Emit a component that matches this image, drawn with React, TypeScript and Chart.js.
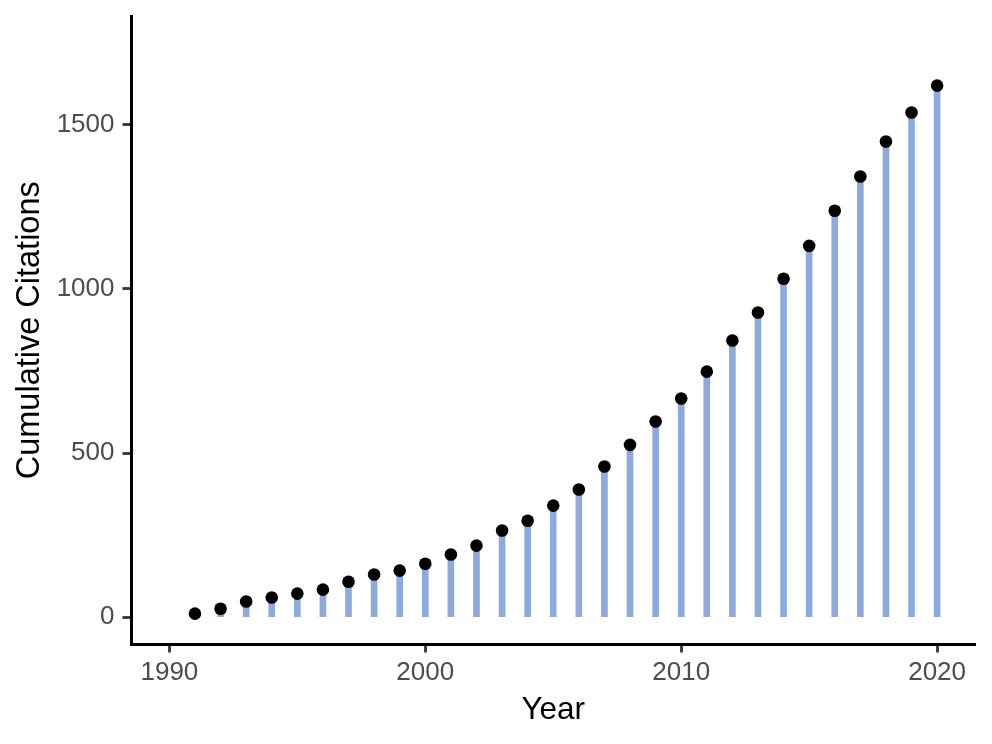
import { Chart, registerables } from 'chart.js';
import { useEffect, useRef } from 'react';

Chart.register(...registerables);

const years = [
  1991, 1992, 1993, 1994, 1995, 1996, 1997, 1998, 1999, 2000,
  2001, 2002, 2003, 2004, 2005, 2006, 2007, 2008, 2009, 2010,
  2011, 2012, 2013, 2014, 2015, 2016, 2017, 2018, 2019, 2020,
];
const citations = [
  11, 26, 48, 60, 72, 84, 108, 130, 142, 163,
  191, 218, 264, 294, 340, 389, 459, 525, 596, 666,
  748, 843, 928, 1031, 1131, 1238, 1342, 1449, 1537, 1619,
];
const xTicks = [1990, 2000, 2010, 2020];
const yTicks = [0, 500, 1000, 1500];

const FONT = "'Liberation Sans', Arial, sans-serif";

const App: React.FC = () => {
  const ref = useRef<HTMLCanvasElement>(null);
  const chartInstance = useRef<Chart | null>(null);

  useEffect(() => {
    if (!ref.current) return;
    const ctx = ref.current.getContext('2d');
    if (!ctx) return;
    if (chartInstance.current) chartInstance.current.destroy();

    const points = years.map((y, i) => ({ x: y, y: citations[i] }));

    chartInstance.current = new Chart(ctx, {
      type: 'bar',
      data: {
        datasets: [
          {
            type: 'scatter',
            data: points,
            backgroundColor: '#000000',
            borderWidth: 0,
            pointRadius: 6.3,
            order: 0,
          } as any,
          {
            type: 'bar',
            data: points,
            backgroundColor: '#8EAADC',
            barThickness: 6,
            order: 1,
          },
        ],
      },
      options: {
        animation: false,
        responsive: false,
        layout: { padding: { top: 16, right: 17, left: 0, bottom: 0 } },
        plugins: { legend: { display: false }, tooltip: { enabled: false } },
        scales: {
          x: {
            type: 'linear',
            min: 1988.52,
            max: 2021.48,
            offset: false,
            afterBuildTicks: (scale: any) => {
              scale.ticks = xTicks.map((v) => ({ value: v }));
            },
            afterFit: (scale: any) => {
              scale.height = 99.5;
              scale.paddingLeft = 0;
              scale.paddingRight = 0;
            },
            grid: {
              offset: false,
              drawOnChartArea: false,
              drawTicks: true,
              tickLength: 8,
              tickColor: '#333333',
              tickWidth: 2.8,
            },
            border: { display: true, color: '#000000', width: 3 },
            ticks: {
              color: '#4D4D4D',
              font: { family: FONT, size: 26 },
              padding: 5,
              maxRotation: 0,
              callback: (v: any) => String(v),
            },
            title: {
              display: true,
              text: 'Year',
              color: '#000000',
              font: { family: FONT, size: 31.5 },
              padding: { top: 0, bottom: 15 },
            },
          },
          y: {
            type: 'linear',
            min: -83,
            max: 1831,
            afterBuildTicks: (scale: any) => {
              scale.ticks = yTicks.map((v) => ({ value: v }));
            },
            afterFit: (scale: any) => {
              scale.width = 131.5;
              scale.paddingTop = 0;
              scale.paddingBottom = 0;
            },
            grid: {
              drawOnChartArea: false,
              drawTicks: true,
              tickLength: 9,
              tickColor: '#333333',
              tickWidth: 2.8,
            },
            border: { display: true, color: '#000000', width: 3 },
            ticks: {
              color: '#4D4D4D',
              font: { family: FONT, size: 26 },
              padding: 8,
              callback: (v: any) => String(v),
            },
            title: {
              display: true,
              text: 'Cumulative Citations',
              color: '#000000',
              font: { family: FONT, size: 32.5 },
              padding: { top: 11, bottom: 0 },
            },
          },
        },
      },
    });

    return () => {
      if (chartInstance.current) {
        chartInstance.current.destroy();
        chartInstance.current = null;
      }
    };
  }, []);

  return (
    <div style={{ position: 'absolute', left: 0, top: 0, width: 992, height: 744, background: '#ffffff' }}>
      <canvas ref={ref} width={992} height={744} style={{ width: 992, height: 744 }}></canvas>
    </div>
  );
};

export default App;
